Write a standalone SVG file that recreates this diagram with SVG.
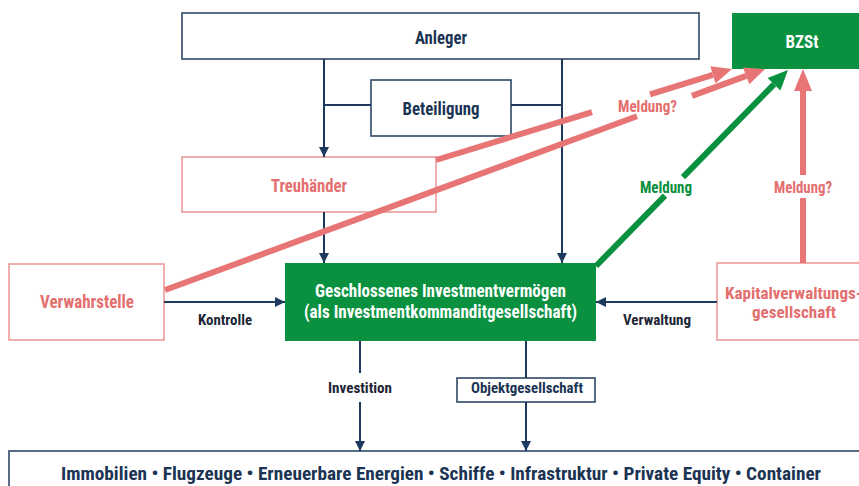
<svg xmlns="http://www.w3.org/2000/svg" width="859" height="486" viewBox="0 0 859 486">
  <defs>
    <style>
      text { font-family: "Roboto Condensed", Roboto, "Liberation Sans", sans-serif; font-weight: bold; text-anchor: middle; }
      .box { fill: #ffffff; stroke: #2e4866; stroke-width: 1.6; }
      .pbox { fill: #ffffff; stroke: #ec9a9a; stroke-width: 1.6; }
      .gbox { fill: #09913f; stroke: none; }
      .navy { fill: #1b3454; }
      .dark { fill: #1e2635; }
      .white { fill: #ffffff; }
      .pink { fill: #e46f6f; }
      .green { fill: #0b8f3e; }
      .link { stroke: #1d3a5e; stroke-width: 2; fill: none; }
      .plink { stroke: #e87575; stroke-width: 6; fill: none; }
      .glink { stroke: #0a913f; stroke-width: 6; fill: none; }
      .l18 { font-size: 18px; }
      .l16 { font-size: 16px; }
      .l15 { font-size: 15px; }
    </style>
    <marker id="arr" viewBox="0 0 10 10" refX="10" refY="5" markerWidth="10" markerHeight="10" markerUnits="userSpaceOnUse" orient="auto">
      <path d="M0,0 L10,5 L0,10 z" fill="#1d3a5e"/>
    </marker>
  </defs>

  <!-- nodes -->
  <g id="anleger">
    <rect class="box" x="182" y="13" width="517" height="46"/>
    <text class="navy l18" x="441" y="44" textLength="52" lengthAdjust="spacingAndGlyphs">Anleger</text>
  </g>
  <g id="beteiligung">
    <rect class="box" x="371" y="80" width="140" height="56"/>
    <text class="navy l18" x="441" y="115" textLength="77" lengthAdjust="spacingAndGlyphs">Beteiligung</text>
  </g>
  <g id="bzst">
    <rect class="gbox" x="732" y="13" width="140" height="56"/>
    <text class="white l18" x="802" y="48" textLength="33" lengthAdjust="spacingAndGlyphs">BZSt</text>
  </g>
  <g id="treuhaender">
    <rect class="pbox" x="182" y="157" width="254" height="55"/>
    <text class="pink l18" x="309" y="192" textLength="76" lengthAdjust="spacingAndGlyphs">Treuhänder</text>
  </g>
  <g id="verwahrstelle">
    <rect class="pbox" x="9" y="264" width="155" height="76"/>
    <text class="pink l18" x="87" y="308" textLength="94" lengthAdjust="spacingAndGlyphs">Verwahrstelle</text>
  </g>
  <g id="investmentvermoegen">
    <rect class="gbox" x="285" y="263" width="311" height="78"/>
    <text class="white l18" x="440.5" y="297" textLength="251" lengthAdjust="spacingAndGlyphs">Geschlossenes Investmentvermögen</text>
    <text class="white l18" x="440.5" y="318" textLength="273" lengthAdjust="spacingAndGlyphs">(als Investmentkommanditgesellschaft)</text>
  </g>
  <g id="kvg">
    <rect class="pbox" x="717" y="263" width="160" height="77"/>
    <text class="pink l16" x="793.5" y="299" textLength="137" lengthAdjust="spacingAndGlyphs">Kapitalverwaltungs-</text>
    <text class="pink l16" x="794" y="318" textLength="84" lengthAdjust="spacingAndGlyphs">gesellschaft</text>
  </g>
  <g id="objektgesellschaft">
    <rect class="box" x="457" y="378" width="138" height="24"/>
    <text class="navy l15" x="527" y="393" textLength="112" lengthAdjust="spacingAndGlyphs">Objektgesellschaft</text>
  </g>
  <g id="assets">
    <rect class="box" x="9" y="451" width="870" height="50"/>
    <text class="navy l18" x="441" y="480" textLength="760" lengthAdjust="spacingAndGlyphs">Immobilien • Flugzeuge • Erneuerbare Energien • Schiffe • Infrastruktur • Private Equity • Container</text>
  </g>

  <!-- connectors -->
  <g id="connectors">
    <!-- Anleger / Beteiligung -->
    <line class="link" x1="324" y1="59" x2="324" y2="157" marker-end="url(#arr)"/>
    <line class="link" x1="562" y1="59" x2="562" y2="263" marker-end="url(#arr)"/>
    <line class="link" x1="324" y1="105" x2="371" y2="105"/>
    <line class="link" x1="511" y1="105" x2="562" y2="105"/>
    <line class="link" x1="324" y1="212" x2="324" y2="263" marker-end="url(#arr)"/>
    <!-- Kontrolle / Verwaltung -->
    <line class="link" x1="164" y1="302" x2="285" y2="302" marker-end="url(#arr)"/>
    <text class="dark l15" x="225" y="325" textLength="54" lengthAdjust="spacingAndGlyphs">Kontrolle</text>
    <line class="link" x1="717" y1="302" x2="596" y2="302" marker-end="url(#arr)"/>
    <text class="dark l15" x="657" y="325" textLength="68" lengthAdjust="spacingAndGlyphs">Verwaltung</text>
    <!-- Investition -->
    <line class="link" x1="360" y1="341" x2="360" y2="373"/>
    <line class="link" x1="360" y1="402" x2="360" y2="451" marker-end="url(#arr)"/>
    <text class="dark l15" x="360" y="393" textLength="64" lengthAdjust="spacingAndGlyphs">Investition</text>
    <!-- Objektgesellschaft -->
    <line class="link" x1="526" y1="341" x2="526" y2="378"/>
    <line class="link" x1="526" y1="402" x2="526" y2="451" marker-end="url(#arr)"/>

    <!-- Meldung? from Treuhänder -->
    <line class="plink" x1="436" y1="160" x2="592" y2="112.1"/>
    <line class="plink" x1="650" y1="94.3" x2="712.9" y2="74.9"/>
    <polygon fill="#e87575" points="732,69 715.5,83.5 710.3,66.3"/>
    <!-- Meldung? from Verwahrstelle -->
    <line class="plink" x1="165" y1="290" x2="637" y2="116.2"/>
    <line class="plink" x1="692" y1="95.9" x2="746.2" y2="75.9"/>
    <polygon fill="#e87575" points="765,69 749.3,84.3 743.1,67.5"/>
    <text class="pink l16" x="647.5" y="112" textLength="59" lengthAdjust="spacingAndGlyphs">Meldung?</text>

    <!-- Meldung from Investmentvermögen -->
    <line class="glink" x1="596" y1="266" x2="665" y2="195.6"/>
    <line class="glink" x1="683" y1="177.2" x2="774" y2="84.3"/>
    <polygon fill="#0a913f" points="788,70 780.4,90.6 767.6,78"/>
    <text class="green l16" x="666" y="193" textLength="52" lengthAdjust="spacingAndGlyphs">Meldung</text>

    <!-- Meldung? from KVG -->
    <line class="plink" x1="803" y1="263" x2="803" y2="198"/>
    <line class="plink" x1="803" y1="175" x2="803" y2="89"/>
    <polygon fill="#e87575" points="803,69 794,91 812,91"/>
    <text class="pink l16" x="803" y="193" textLength="58" lengthAdjust="spacingAndGlyphs">Meldung?</text>
  </g>
</svg>
